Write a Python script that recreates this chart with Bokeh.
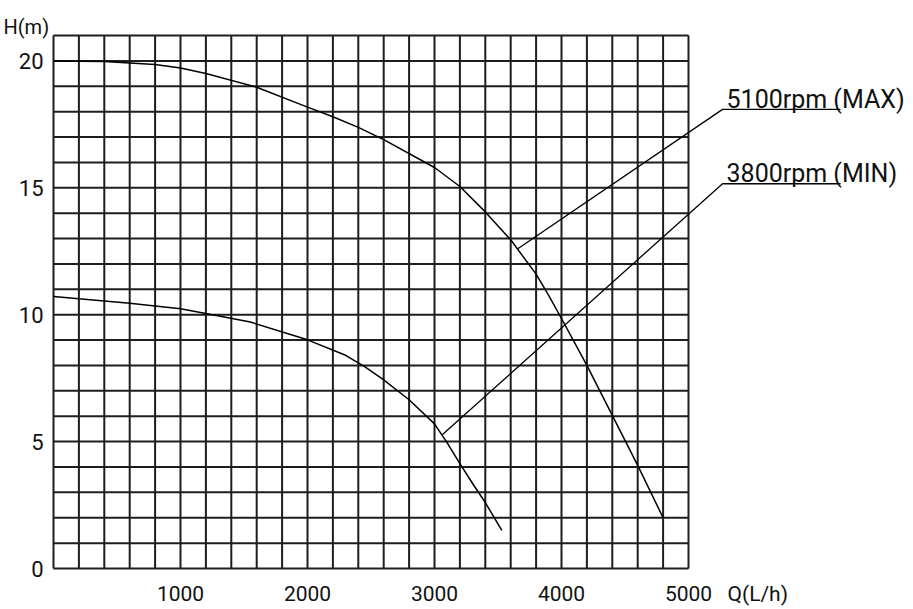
import numpy as np
from bokeh.plotting import figure
from bokeh.models import Range1d
from bokeh.core.properties import value
from bokeh.embed import file_html
from bokeh.resources import INLINE

# ---- data ----
q_max = [0, 400, 800, 1000, 1200, 1600, 2000, 2200, 2400, 2600, 3000, 3200, 3400,
         3600, 3800, 3900, 4000, 4200, 4400, 4600, 4800]
h_max = [20.0, 19.98, 19.86, 19.72, 19.5, 18.96, 18.18, 17.8, 17.38, 16.9, 15.8, 15.05, 14.05,
         12.95, 11.6, 10.75, 9.85, 8.0, 6.03, 4.06, 2.0]

q_min = [0, 200, 600, 1000, 1200, 1550, 2000, 2300, 2450, 2600, 2800, 3000, 3100, 3200,
         3300, 3400, 3530]
h_min = [10.72, 10.63, 10.45, 10.23, 10.05, 9.71, 9.01, 8.4, 7.95, 7.43, 6.65, 5.7, 4.95, 4.13,
         3.35, 2.6, 1.5]

x_ticks = [1000, 2000, 3000, 4000, 5000]
x_tick_labels = ["1000", "2000", "3000", "4000", "5000"]
y_ticks = [0, 5, 10, 15, 20]
y_tick_labels = ["0", "5", "10", "15", "20"]

q_max_leader = [3656, 5268, 6197]
h_max_leader = [12.6, 18.09, 18.09]
q_min_leader = [3061, 5268, 6197]
h_min_leader = [5.27, 15.16, 15.16]
series_labels = ["5100rpm (MAX)", "3800rpm (MIN)"]

x_axis_title = "Q(L/h)"
y_axis_title = "H(m)"

# grid extent
Q_MAX, Q_STEP = 5000, 200
H_MAX, H_STEP = 21, 1

FONT = value("Roboto")
INK = "#111111"

p = figure(width=913, height=609,
           x_range=Range1d(-417.3, 6771.7), y_range=Range1d(-1.615, 22.379),
           output_backend="svg", toolbar_location=None,
           x_axis_location=None, y_axis_location=None, min_border=0)
p.outline_line_color = None
p.background_fill_color = "white"
p.border_fill_color = "white"
p.grid.visible = False

# grid
gx = np.arange(0, Q_MAX + Q_STEP / 2, Q_STEP)
gy = np.arange(0, H_MAX + H_STEP / 2, H_STEP)
p.segment(x0=gx, y0=np.zeros_like(gx), x1=gx, y1=np.full_like(gx, H_MAX),
          line_color="#1e1e1e", line_width=2)
p.segment(x0=np.zeros_like(gy), y0=gy, x1=np.full_like(gy, Q_MAX), y1=gy,
          line_color="#1e1e1e", line_width=2)

# curves
p.line(q_max, h_max, line_color="black", line_width=1.5, line_join="round")
p.line(q_min, h_min, line_color="black", line_width=1.5, line_join="round")

# leaders
p.line(q_max_leader, h_max_leader, line_color="black", line_width=1.3)
p.line(q_min_leader, h_min_leader, line_color="black", line_width=1.3)

# tick labels
p.text(x=[0] * len(y_ticks), y=y_ticks, text=y_tick_labels, x_offset=-10,
       text_align="right", text_baseline="middle", text_font=FONT,
       text_font_size="22px", text_color=INK)
p.text(x=x_ticks, y=[0] * len(x_ticks), text=x_tick_labels, y_offset=25,
       text_align="center", text_baseline="alphabetic", text_font=FONT,
       text_font_size="21px", text_color=INK)
p.text(x=[Q_MAX], y=[0], text=[x_axis_title], x_offset=39, y_offset=25,
       text_align="left", text_baseline="alphabetic", text_font=FONT,
       text_font_size="21px", text_color=INK)
p.text(x=[0], y=[H_MAX], text=[y_axis_title], x_offset=-50, y_offset=-9,
       text_align="left", text_baseline="alphabetic", text_font=FONT,
       text_font_size="20px", text_color=INK)

# series labels
p.text(x=[q_max_leader[1], q_min_leader[1]], y=[h_max_leader[1], h_min_leader[1]],
       text=series_labels, x_offset=4, y_offset=-10,
       text_align="left", text_baseline="alphabetic", text_font=FONT,
       text_font_size="25px", text_color=INK)

open("out.html", "w").write(file_html(p, INLINE))
